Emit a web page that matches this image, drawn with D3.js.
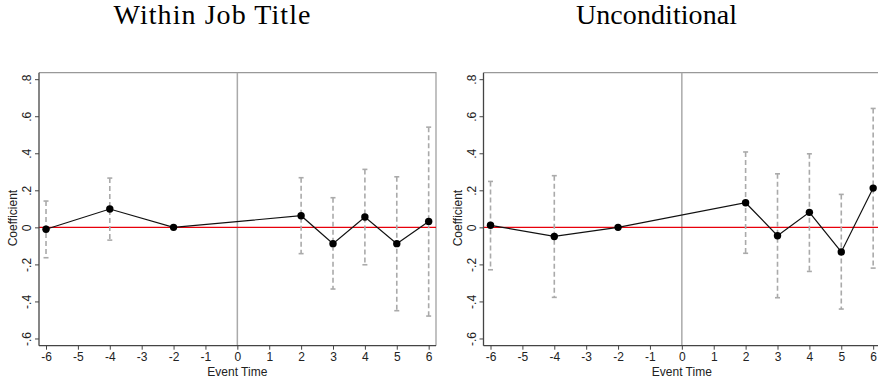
<!DOCTYPE html>
<html>
<head>
<meta charset="utf-8">
<script src="https://cdn.jsdelivr.net/npm/d3@7"></script>
<style>
  body { margin: 0; background: #fff; }
  svg { display: block; }
</style>
</head>
<body>
<svg width="878" height="381"></svg>
<script>
// event times (reference period -2 has no interval)
const eventTimes = [-6, -4, -2, 2, 3, 4, 5, 6];

// Within Job Title
const withinCoef = [-0.010, 0.099, 0.000, 0.063, -0.088, 0.056, -0.088, 0.032];
const withinHi   = [0.142, 0.266, null, 0.268, 0.160, 0.313, 0.273, 0.541];
const withinLo   = [-0.164, -0.069, null, -0.142, -0.333, -0.202, -0.450, -0.479];

// Unconditional
const uncondCoef = [0.011, -0.049, 0.000, 0.133, -0.045, 0.081, -0.133, 0.212];
const uncondHi   = [0.248, 0.279, null, 0.407, 0.289, 0.397, 0.178, 0.642];
const uncondLo   = [-0.229, -0.378, null, -0.140, -0.380, -0.238, -0.441, -0.220];

const xTicks = [-6, -5, -4, -3, -2, -1, 0, 1, 2, 3, 4, 5, 6];
const yTicks = [0.8, 0.6, 0.4, 0.2, 0, -0.2, -0.4, -0.6];
const yTickLabels = ['.8', '.6', '.4', '.2', '0', '-.2', '-.4', '-.6'];
const titles = ['Within Job Title', 'Unconditional'];
const titleWidths = [197, 161];

const svg = d3.select('svg');

const fmtY = d => yTickLabels[yTicks.indexOf(d)];

function panel(left, k, coef, hi, lo) {
  const w = 397, top = 72.7, bottom = 345.7;
  const g = svg.append('g');

  const x = d3.scaleLinear().domain([-6.22, 6.23]).range([left, left + w]);
  const y = d3.scaleLinear().domain([-0.639, 0.835]).range([bottom, top]);

  // title
  svg.append('text')
    .attr('x', left + 173).attr('y', 24)
    .attr('text-anchor', 'middle')
    .attr('textLength', titleWidths[k]).attr('lengthAdjust', 'spacing')
    .style('font-family', '"Liberation Serif", serif')
    .style('font-size', '28px')
    .text(titles[k]);

  // frame top / right
  g.append('path')
    .attr('d', `M${left},${top}H${left + w}V${bottom}`)
    .attr('fill', 'none').attr('stroke', '#999').attr('stroke-width', 1.2);

  // vertical line at 0
  g.append('line')
    .attr('x1', x(0)).attr('x2', x(0)).attr('y1', top).attr('y2', bottom)
    .attr('stroke', '#aaa').attr('stroke-width', 1.5);

  // red zero line
  g.append('line')
    .attr('x1', left).attr('x2', left + w).attr('y1', y(0)).attr('y2', y(0))
    .attr('stroke', '#e8000b').attr('stroke-width', 1.2);

  // axes
  const xAxis = g.append('g')
    .attr('transform', `translate(0,${bottom})`)
    .call(d3.axisBottom(x).tickValues(xTicks).tickSize(4).tickPadding(3).tickFormat(d => String(d)));
  const yAxis = g.append('g')
    .attr('transform', `translate(${left},0)`)
    .call(d3.axisLeft(y).tickValues(yTicks).tickSize(4).tickFormat(fmtY));

  [xAxis, yAxis].forEach(a => {
    a.select('.domain').attr('stroke', '#444').attr('stroke-width', 1.3);
    a.selectAll('.tick line').attr('stroke', '#444');
    a.selectAll('text')
      .style('font-family', '"Liberation Sans", Arial, sans-serif')
      .style('font-size', '12px').attr('fill', '#222');
  });
  xAxis.select('.domain').attr('d', `M${left},0H${left + w}`);
  yAxis.select('.domain').attr('d', `M0,${bottom}V${top}`);

  yAxis.selectAll('.tick text')
    .attr('x', 0).attr('dy', 0)
    .attr('text-anchor', 'middle')
    .attr('transform', 'translate(-8,0) rotate(-90)');

  // axis titles
  g.append('text')
    .attr('x', x(0)).attr('y', 376)
    .attr('text-anchor', 'middle')
    .style('font-family', '"Liberation Sans", Arial, sans-serif')
    .style('font-size', '12px').attr('fill', '#222')
    .text('Event Time');
  g.append('text')
    .attr('transform', `translate(${left - 22},${y(0.05)}) rotate(-90)`)
    .attr('text-anchor', 'middle')
    .style('font-family', '"Liberation Sans", Arial, sans-serif')
    .style('font-size', '12px').attr('fill', '#222')
    .text('Coefficient');

  const rows = eventTimes.map((t, i) => ({t, c: coef[i], hi: hi[i], lo: lo[i]}));

  // confidence intervals
  const ci = g.append('g').attr('stroke', '#aaa').attr('stroke-width', 1.6);
  rows.filter(d => d.hi != null).forEach(d => {
    ci.append('line')
      .attr('x1', x(d.t)).attr('x2', x(d.t)).attr('y1', y(d.hi)).attr('y2', y(d.lo))
      .attr('stroke-dasharray', '5,3');
    [d.hi, d.lo].forEach(v => {
      ci.append('line')
        .attr('x1', x(d.t) - 2.5).attr('x2', x(d.t) + 2.5)
        .attr('y1', y(v)).attr('y2', y(v));
    });
  });

  // coefficient line and points
  g.append('path')
    .datum(rows)
    .attr('fill', 'none').attr('stroke', '#111').attr('stroke-width', 1.2)
    .attr('d', d3.line().x(d => x(d.t)).y(d => y(d.c)));
  g.selectAll('circle').data(rows).join('circle')
    .attr('cx', d => x(d.t)).attr('cy', d => y(d.c)).attr('r', 3.7)
    .attr('fill', '#000');
}

panel(39, 0, withinCoef, withinHi, withinLo);
panel(483.5, 1, uncondCoef, uncondHi, uncondLo);
</script>
</body>
</html>
